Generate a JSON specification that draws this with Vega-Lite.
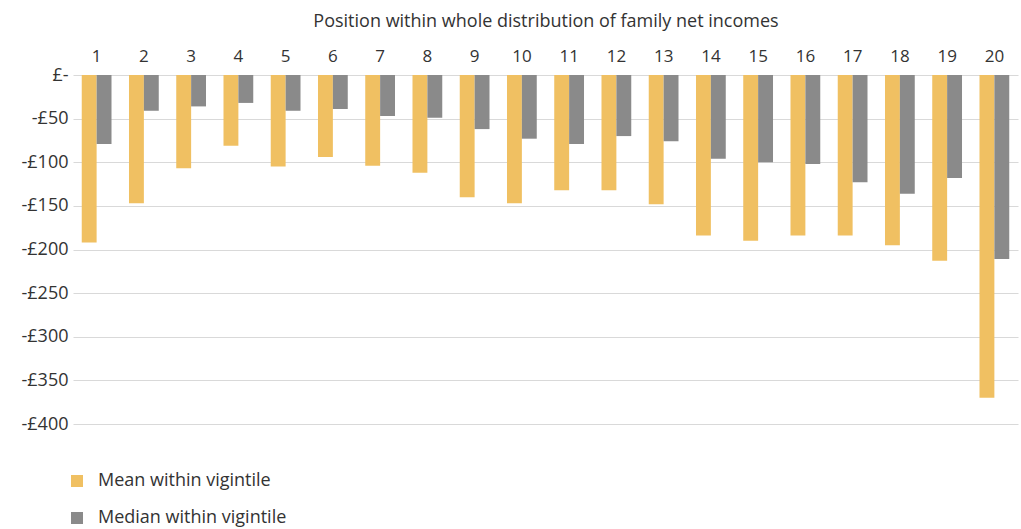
{
  "$schema": "https://vega.github.io/schema/vega-lite/v6.json",
  "autosize": "none",
  "width": 945,
  "height": 349,
  "padding": {"left": 73, "top": 75, "right": 3, "bottom": 105},
  "background": "white",
  "config": {
    "font": "Open Sans",
    "view": {"stroke": null}
  },
  "data": {
    "values": [
      {"v": 1, "m": "Mean within vigintile", "val": -192},
      {"v": 2, "m": "Mean within vigintile", "val": -147},
      {"v": 3, "m": "Mean within vigintile", "val": -107},
      {"v": 4, "m": "Mean within vigintile", "val": -81},
      {"v": 5, "m": "Mean within vigintile", "val": -105},
      {"v": 6, "m": "Mean within vigintile", "val": -94},
      {"v": 7, "m": "Mean within vigintile", "val": -104},
      {"v": 8, "m": "Mean within vigintile", "val": -112},
      {"v": 9, "m": "Mean within vigintile", "val": -140},
      {"v": 10, "m": "Mean within vigintile", "val": -147},
      {"v": 11, "m": "Mean within vigintile", "val": -132},
      {"v": 12, "m": "Mean within vigintile", "val": -132},
      {"v": 13, "m": "Mean within vigintile", "val": -148},
      {"v": 14, "m": "Mean within vigintile", "val": -184},
      {"v": 15, "m": "Mean within vigintile", "val": -190},
      {"v": 16, "m": "Mean within vigintile", "val": -184},
      {"v": 17, "m": "Mean within vigintile", "val": -184},
      {"v": 18, "m": "Mean within vigintile", "val": -195},
      {"v": 19, "m": "Mean within vigintile", "val": -213},
      {"v": 20, "m": "Mean within vigintile", "val": -370},
      {"v": 1, "m": "Median within vigintile", "val": -79},
      {"v": 2, "m": "Median within vigintile", "val": -41},
      {"v": 3, "m": "Median within vigintile", "val": -36},
      {"v": 4, "m": "Median within vigintile", "val": -32},
      {"v": 5, "m": "Median within vigintile", "val": -41},
      {"v": 6, "m": "Median within vigintile", "val": -39},
      {"v": 7, "m": "Median within vigintile", "val": -47},
      {"v": 8, "m": "Median within vigintile", "val": -49},
      {"v": 9, "m": "Median within vigintile", "val": -62},
      {"v": 10, "m": "Median within vigintile", "val": -73},
      {"v": 11, "m": "Median within vigintile", "val": -79},
      {"v": 12, "m": "Median within vigintile", "val": -70},
      {"v": 13, "m": "Median within vigintile", "val": -76},
      {"v": 14, "m": "Median within vigintile", "val": -96},
      {"v": 15, "m": "Median within vigintile", "val": -100},
      {"v": 16, "m": "Median within vigintile", "val": -102},
      {"v": 17, "m": "Median within vigintile", "val": -123},
      {"v": 18, "m": "Median within vigintile", "val": -136},
      {"v": 19, "m": "Median within vigintile", "val": -118},
      {"v": 20, "m": "Median within vigintile", "val": -211}
    ]
  },
  "mark": {"type": "bar"},
  "encoding": {
    "x": {
      "field": "v",
      "type": "ordinal",
      "scale": {"paddingInner": 0.37, "paddingOuter": 0.185},
      "axis": {
        "orient": "top",
        "title": "Position within whole distribution of family net incomes",
        "titleFont": "Open Sans",
        "titleFontSize": 18,
        "titleFontWeight": "normal",
        "titleColor": "#333333",
        "titlePadding": 17,
        "labelAngle": 0,
        "labelFontSize": 17,
        "labelColor": "#333333",
        "labelPadding": 10,
        "domain": false,
        "ticks": false
      }
    },
    "xOffset": {"field": "m", "type": "nominal", "scale": {"paddingInner": 0, "paddingOuter": 0}},
    "y": {
      "field": "val",
      "type": "quantitative",
      "scale": {"domain": [-400, 0], "nice": false},
      "axis": {
        "title": null,
        "values": [0, -50, -100, -150, -200, -250, -300, -350, -400],
        "labelExpr": "datum.value == 0 ? '£-' : '-£' + abs(datum.value)",
        "labelFontSize": 18,
        "labelColor": "#333333",
        "labelPadding": 5,
        "domain": false,
        "ticks": false,
        "gridColor": "#d9d9d9",
        "gridWidth": 1.2
      }
    },
    "color": {
      "field": "m",
      "type": "nominal",
      "scale": {
        "domain": ["Mean within vigintile", "Median within vigintile"],
        "range": ["#F0C062", "#8A8A8A"]
      },
      "legend": {
        "title": null,
        "orient": "none",
        "legendX": -5,
        "legendY": 397,
        "padding": 0,
        "direction": "vertical",
        "symbolType": "square",
        "symbolSize": 144,
        "symbolStrokeWidth": 0,
        "labelFontSize": 18,
        "labelColor": "#333333",
        "labelOffset": 12,
        "labelLimit": 400,
        "rowPadding": 19
      }
    }
  }
}
